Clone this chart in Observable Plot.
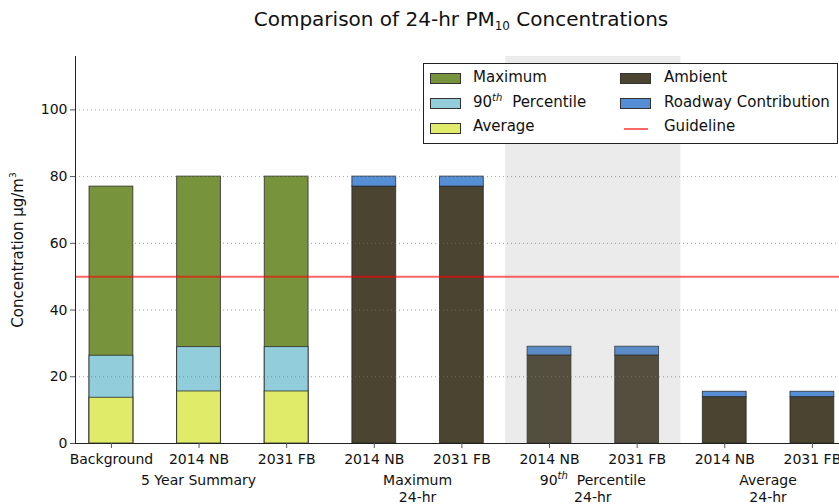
<!DOCTYPE html>
<html>
<head>
<meta charset="utf-8">
<script src="https://cdn.jsdelivr.net/npm/d3@7"></script>
<script src="https://cdn.jsdelivr.net/npm/@observablehq/plot@0.6"></script>
<style>
  html, body { margin: 0; padding: 0; background: #fff; overflow: hidden; }
  #wrap { position: relative; width: 839px; height: 504px; font-family: "DejaVu Sans", sans-serif; color: #111; }
  #wrap svg { position: absolute; left: 0; top: 0; }
  .abs { position: absolute; white-space: nowrap; }
  #title { left: 461px; top: 7px; transform: translateX(-50%); font-size: 20px; line-height: 24px; }
  #title sub { font-size: 12px; vertical-align: -4px; line-height: 0; }
  #ylab { left: 18px; top: 250px; transform: translate(-50%, -50%) rotate(-90deg); font-size: 15px; line-height: 18px; }
  #ylab sup { font-size: 9px; vertical-align: 7px; line-height: 0; }
  #legend { left: 423px; top: 63px; width: 415px; height: 81px; border: 1px solid #222; background: #fff; box-sizing: border-box; }
  .sw { position: absolute; width: 31px; height: 11px; border: 1px solid #333; box-sizing: border-box; }
  .lt { position: absolute; font-size: 15px; line-height: 15px; white-space: nowrap; }
  .lt sup { font-size: 10px; font-style: italic; vertical-align: 6px; line-height: 0; margin-right: 5px; }
</style>
</head>
<body>
<div id="wrap"></div>
<script>
// ---- data ----
const categories = ["Background", "2014 NB", "2031 FB", "2014 NB", "2031 FB", "2014 NB", "2031 FB", "2014 NB", "2031 FB"];
const groupLabels = ["5 Year Summary", "Maximum", "90th Percentile", "Average"];
const groupSubLabels = ["", "24-hr", "24-hr", "24-hr"];
const groupMembers = [[0, 1, 2], [3, 4], [5, 6], [7, 8]];
const highlightedGroup = 2;

const summaryMax = [77, 80, 80];
const summaryP90 = [26.3, 28.9, 28.9];
const summaryAvg = [13.7, 15.6, 15.6];

const ambient = [77, 77, 26.4, 26.4, 13.9, 13.9];
const roadway = [3, 3, 2.6, 2.6, 1.6, 1.6];

const guideline = 50;
const yTicks = [0, 20, 40, 60, 80, 100];

const colors = {
  max: "#77933c",
  p90: "#92cddc",
  avg: "#e0eb6a",
  ambient: "#4a4430",
  roadway: "#558ed5",
  guide: "red"
};

// ---- derived tables ----
const half = 0.25;
const summary = summaryMax.map((m, i) => ({pos: i, max: m, p90: summaryP90[i], avg: summaryAvg[i]}));
const dayBars = ambient.map((a, i) => ({pos: i + 3, ambient: a, total: a + roadway[i]}));
const hg = groupMembers[highlightedGroup];
const band = [{x1: Math.min(...hg) - 0.5, x2: Math.max(...hg) + 0.5}];
const xDomain = [-0.41, 8.41];
const barStyle = {stroke: "#222", strokeOpacity: 0.75, strokeWidth: 1};

const chart = Plot.plot({
  width: 839,
  height: 504,
  marginTop: 56,
  marginBottom: 61,
  marginLeft: 75,
  marginRight: 0,
  x: {domain: xDomain, range: [75, 847.8], axis: null},
  y: {domain: [0, 116], axis: null},
  style: {fontFamily: "DejaVu Sans", fontSize: "14px", color: "#111", background: "transparent", overflow: "hidden"},
  marks: [
    Plot.rect(summary, {x1: d => d.pos - half, x2: d => d.pos + half, y1: 0, y2: "max", fill: colors.max, ...barStyle}),
    Plot.rect(summary, {x1: d => d.pos - half, x2: d => d.pos + half, y1: 0, y2: "p90", fill: colors.p90, ...barStyle}),
    Plot.rect(summary, {x1: d => d.pos - half, x2: d => d.pos + half, y1: 0, y2: "avg", fill: colors.avg, ...barStyle}),
    Plot.rect(dayBars, {x1: d => d.pos - half, x2: d => d.pos + half, y1: 0, y2: "ambient", fill: colors.ambient, ...barStyle}),
    Plot.rect(dayBars, {x1: d => d.pos - half, x2: d => d.pos + half, y1: "ambient", y2: "total", fill: colors.roadway, ...barStyle}),
    Plot.rect(band, {x1: "x1", x2: "x2", y1: 0, y2: 116, fill: "#808080", fillOpacity: 0.16}),
    Plot.ruleY(yTicks.filter(t => t > 0), {stroke: "#777", strokeDasharray: "1,3", strokeOpacity: 0.7}),
    Plot.ruleY([guideline], {stroke: colors.guide, strokeOpacity: 0.6, strokeWidth: 2}),
    Plot.ruleX([xDomain[0]], {stroke: "#222", strokeWidth: 1}),
    Plot.ruleY([0], {stroke: "#222", strokeWidth: 1}),
    Plot.axisY({ticks: yTicks, tickSize: 5, tickPadding: 3, fontSize: 14, stroke: "#555", label: null}),
    Plot.axisX({ticks: d3.range(categories.length), tickFormat: i => categories[i], tickSize: 5, tickPadding: 6, fontSize: 14, stroke: "#555", label: null})
  ]
});

const wrap = document.getElementById("wrap");
wrap.appendChild(chart);

// group labels under the tick labels
const sx = chart.scale("x");
const svg = d3.select(chart);
const gl = svg.append("g").attr("font-family", "DejaVu Sans").attr("font-size", 14).attr("fill", "#111").attr("text-anchor", "middle");
groupMembers.forEach((members, g) => {
  const cx = sx.apply(d3.mean(members));
  const t = gl.append("text").attr("x", cx).attr("y", 485);
  const lab = groupLabels[g];
  const m = lab.match(/^(\d+)th (.*)$/);
  if (m) {
    t.append("tspan").text(m[1]);
    t.append("tspan").attr("font-size", 10).attr("font-style", "italic").attr("dy", -6).text("th");
    t.append("tspan").attr("dy", 6).text("\u00a0 " + m[2]);
  } else {
    t.text(lab);
  }
  if (groupSubLabels[g]) {
    gl.append("text").attr("x", cx).attr("y", 502).text(groupSubLabels[g]);
  }
});

// title
const title = document.createElement("div");
title.className = "abs"; title.id = "title";
title.innerHTML = "Comparison of 24-hr PM<sub>10</sub> Concentrations";
wrap.appendChild(title);

// y label
const ylab = document.createElement("div");
ylab.className = "abs"; ylab.id = "ylab";
ylab.innerHTML = "Concentration \u03bcg/m<sup>3</sup>";
wrap.appendChild(ylab);

// legend
const legendItems = [
  {label: "Maximum", color: colors.max, col: 0, row: 0},
  {label: "90<sup>th</sup> Percentile", color: colors.p90, col: 0, row: 1},
  {label: "Average", color: colors.avg, col: 0, row: 2},
  {label: "Ambient", color: colors.ambient, col: 1, row: 0},
  {label: "Roadway Contribution", color: colors.roadway, col: 1, row: 1},
  {label: "Guideline", color: colors.guide, col: 1, row: 2, line: true}
];
const legend = document.createElement("div");
legend.className = "abs"; legend.id = "legend";
wrap.appendChild(legend);
const swTop = [8.5, 34, 59];
const txTop = [6, 30.5, 55];
const colSw = [6, 196];
const colTx = [49, 240];
legendItems.forEach(it => {
  if (it.line) {
    const ln = document.createElement("div");
    ln.style.cssText = `position:absolute;left:${colSw[it.col] + 4}px;top:${swTop[it.row] + 4.5}px;width:24px;height:2px;background:${it.color};opacity:0.6;`;
    legend.appendChild(ln);
  } else {
    const sw = document.createElement("div");
    sw.className = "sw";
    sw.style.left = colSw[it.col] + "px";
    sw.style.top = swTop[it.row] + "px";
    sw.style.background = it.color;
    legend.appendChild(sw);
  }
  const tx = document.createElement("div");
  tx.className = "lt";
  tx.style.left = colTx[it.col] + "px";
  tx.style.top = txTop[it.row] + "px";
  tx.innerHTML = it.label;
  legend.appendChild(tx);
});
</script>
</body>
</html>
